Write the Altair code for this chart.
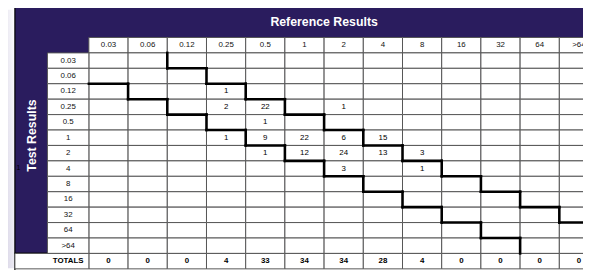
import altair as alt
import pandas as pd

# ---------------- data ----------------
col_labels = ["0.03", "0.06", "0.12", "0.25", "0.5", "1", "2", "4", "8", "16", "32", "64", ">64"]
row_labels = ["0.03", "0.06", "0.12", "0.25", "0.5", "1", "2", "4", "8", "16", "32", "64", ">64"]

# (test result row, reference result column, count)
count_rows = ["0.12", "0.25", "0.25", "0.25", "0.5", "1", "1", "1", "1", "1", "2", "2", "2", "2", "2", "4", "4"]
count_cols = ["0.25", "0.25", "0.5", "2", "0.5", "0.25", "0.5", "1", "2", "4", "0.5", "1", "2", "4", "8", "2", "8"]
count_vals = [1, 2, 22, 1, 1, 1, 9, 22, 6, 15, 1, 12, 24, 13, 3, 3, 1]

totals = [0, 0, 0, 4, 33, 34, 34, 28, 4, 0, 0, 0, 0]

title_text = "Reference Results"
side_text = "Test Results"
totals_text = "TOTALS"

# essential-agreement boundaries: upper starts at column "0.12" / row "0.03",
# lower starts at column "0.03" / row "0.12"
upper_start_col, upper_start_row = 2, 0
lower_start_col, lower_start_row = 0, 2
n_steps = 11

# ---------------- layout (cell units -> pixels) ----------------
W, H = 583, 262
COL_W, ROW_H = 39.75, 15.64
X0 = 90 - 8      # px of column 0 left edge
Y0 = 51.7 - 8    # px of row 0 top edge
xdom = [-X0 / COL_W, (W - X0) / COL_W]
ydom = [-Y0 / ROW_H, (H - Y0) / ROW_H]
NAVY_L = (15 - 90) / COL_W
LABEL_L = (48 - 90) / COL_W
FONT = "Liberation Sans"
NAVY = "#2a1c5e"
GRID = "#555555"

xs = alt.Scale(domain=xdom, nice=False, zero=False)
ys = alt.Scale(domain=ydom, nice=False, zero=False, reverse=True)

def X(f):
    return alt.X(f, type="quantitative", scale=xs, axis=None)

def Y(f):
    return alt.Y(f, type="quantitative", scale=ys, axis=None)

ncol = len(col_labels)
nrow = len(row_labels)

# background gradient on the far left
bg = pd.DataFrame([{"x": xdom[0], "x2": NAVY_L, "y": ydom[0], "y2": ydom[1]}])
bg_layer = alt.Chart(bg).mark_rect(
    fill=alt.LinearGradient(
        gradient="linear", x1=1, y1=0, x2=0, y2=1,
        stops=[alt.GradientStop(offset=0, color="#ffffff"),
               alt.GradientStop(offset=1, color="#dedbea")]),
).encode(x=X("x"), x2="x2", y=Y("y"), y2="y2")

# navy panel
panel = pd.DataFrame([{"x": NAVY_L, "x2": ncol + 2, "y": -3, "y2": nrow}])
panel_layer = alt.Chart(panel).mark_rect(fill=NAVY, stroke="#000000", strokeWidth=1.2).encode(
    x=X("x"), x2="x2", y=Y("y"), y2="y2")

# totals band
tband = pd.DataFrame([{"x": NAVY_L, "x2": ncol + 2, "y": nrow, "y2": nrow + 2}])
tband_layer = alt.Chart(tband).mark_rect(fill="#ffffff", stroke="#000000", strokeWidth=1.2).encode(
    x=X("x"), x2="x2", y=Y("y"), y2="y2")

# white cells
cells = []
for c in range(ncol):
    cells.append({"x": c, "x2": c + 1, "y": -1, "y2": 0})
    for r in range(nrow + 1):
        cells.append({"x": c, "x2": c + 1, "y": r, "y2": r + 1})
for r in range(nrow):
    cells.append({"x": LABEL_L, "x2": 0, "y": r, "y2": r + 1})
cells.append({"x": NAVY_L, "x2": 0, "y": nrow, "y2": nrow + 1})
cells_layer = alt.Chart(pd.DataFrame(cells)).mark_rect(
    fill="#ffffff", stroke=GRID, strokeWidth=1).encode(
    x=X("x"), x2="x2", y=Y("y"), y2="y2")

# staircase boundaries
segs = []
for k in range(n_steps):
    c, r = upper_start_col + k, upper_start_row + k
    segs.append({"x": c, "x2": c, "y": r, "y2": r + 1})
    segs.append({"x": c, "x2": c + 1, "y": r + 1, "y2": r + 1})
    c, r = lower_start_col + k, lower_start_row + k
    segs.append({"x": c, "x2": c + 1, "y": r, "y2": r})
    segs.append({"x": c + 1, "x2": c + 1, "y": r, "y2": r + 1})
stairs_layer = alt.Chart(pd.DataFrame(segs)).mark_rule(
    color="#000000", strokeWidth=2.6, strokeCap="square").encode(
    x=X("x"), x2="x2", y=Y("y"), y2="y2")

# texts
hdr = pd.DataFrame({"x": [c + 0.5 for c in range(ncol)], "y": [-0.5] * ncol, "t": col_labels})
rlab = pd.DataFrame({"x": [LABEL_L / 2] * nrow, "y": [r + 0.5 for r in range(nrow)], "t": row_labels})
cnt = pd.DataFrame({
    "x": [col_labels.index(c) + 0.5 for c in count_cols],
    "y": [row_labels.index(r) + 0.5 for r in count_rows],
    "t": [str(v) for v in count_vals]})
tot = pd.DataFrame({"x": [c + 0.5 for c in range(ncol)] + [LABEL_L / 2],
                    "y": [nrow + 0.5] * (ncol + 1),
                    "t": [str(v) for v in totals] + [totals_text]})

def text_layer(df, **kw):
    base = dict(font=FONT, fontSize=8, color="#000000", align="center", baseline="middle")
    base.update(kw)
    return alt.Chart(df).mark_text(**base).encode(x=X("x"), y=Y("y"), text="t:N")

hdr_layer = text_layer(hdr, color="#111111")
rlab_layer = text_layer(rlab, color="#111111")
cnt_layer = text_layer(cnt)
tot_layer = text_layer(tot, fontWeight="bold")

title_df = pd.DataFrame({"x": [6.0], "y": [-2.0], "t": [title_text]})
title_layer = text_layer(title_df, fontSize=12.5, fontWeight="bold", color="#ffffff")

side_df = pd.DataFrame({"x": [(32 - 90) / COL_W], "y": [(135.5 - 51.7) / ROW_H], "t": [side_text]})
side_layer = text_layer(side_df, fontSize=12.5, fontWeight="bold", color="#ffffff", angle=270)

stray_df = pd.DataFrame({"x": [(18.5 - 90) / COL_W], "y": [(168 - 51.7) / ROW_H], "t": ["1"]})
stray_layer = text_layer(stray_df, fontSize=7)

chart = alt.layer(
    bg_layer, panel_layer, tband_layer, cells_layer, stairs_layer,
    hdr_layer, rlab_layer, cnt_layer, tot_layer, title_layer, side_layer, stray_layer,
).properties(
    width=W, height=H, autosize=alt.AutoSizeParams(type="none"), padding=0,
).configure_view(stroke=None)

chart.save("out.html", embed_options={"renderer": "svg", "actions": False})
